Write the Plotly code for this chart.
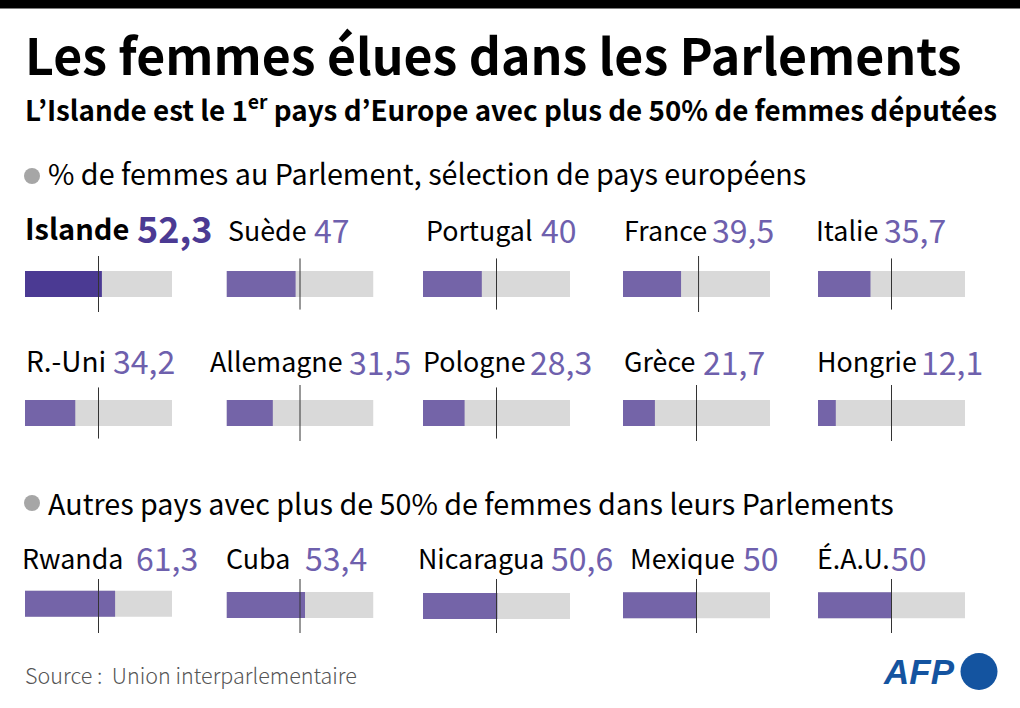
import plotly.graph_objects as go

# data
pays_europe = ["Islande", "Suède", "Portugal", "France", "Italie",
               "R.-Uni", "Allemagne", "Pologne", "Grèce", "Hongrie"]
valeurs_europe = [52.3, 47, 40, 39.5, 35.7, 34.2, 31.5, 28.3, 21.7, 12.1]
pays_autres = ["Rwanda", "Cuba", "Nicaragua", "Mexique", "É.A.U."]
valeurs_autres = [61.3, 53.4, 50.6, 50, 50]
repere = 50

W, H = 1020, 708
FONT = "Noto Sans CJK JP"
VIOLET = "#7464a8"
VIOLET_FONCE = "#4b3a93"
TEXTE_VALEUR = "#6e60ad"
GRIS = "#d9d9d9"

# layout of the small multiples, in pixels
col_x = [25, 226.5, 423, 623, 818]
row_mid = [284, 413, 606]
bar_w = 147
bar_h = 26
line_h = [56, 51.5, 51.5, 56, 51.5, 51.5, 56, 51.5, 56, 56, 54, 54, 54, 54, 54]
bar_shift = [0, 0, 0, 0, 0, 0, 0, 0, 0, 0, 2.3, 1, 0, 0.7, 0.7]
line_shift = [0, 0, 0, 1.4, 0, 0, 0, 0, 0, 0, 0, 0, 0, 0, 0]  # the France line sits a bit off in the original
label_x = [25, 227.5, 426, 623.5, 816, 26, 210, 422.5, 623.5, 816.5, 22, 226, 418, 630, 816.5]
label_size = [29, 26.8, 26.8, 26.8, 26.8, 28, 26.8, 26.8, 26.8, 26.8, 26.8, 26.8, 26.8, 26.8, 26.8]
value_x = [137, 314, 541, 712, 884, 113, 349, 530, 703, 921, 136, 305, 551, 743, 891]
label_y = [227, 229, 229, 229, 229, 359.5, 360.5, 360.5, 360.5, 360.5, 557, 557, 557, 557, 557]


def px(x):
    return x / W


def py(y):
    return 1 - y / H


def label(x, y, text, size, color="#000000", weight=400, font=FONT, style="normal"):
    fig.add_annotation(x=px(x), y=py(y), xref="paper", yref="paper", text=text, showarrow=False,
                       xanchor="left", yanchor="middle", borderpad=0, borderwidth=0, align="left",
                       font=dict(family=font, size=size, color=color, weight=weight, style=style))


fig = go.Figure()

pays = pays_europe + pays_autres
valeurs = valeurs_europe + valeurs_autres
for i, (nom, v) in enumerate(zip(pays, valeurs)):
    n = i + 1
    col = i % 5
    row = i // 5
    fort = nom == "Islande"
    x0 = col_x[col]
    h = line_h[i]
    mid = row_mid[row]
    xa = "x" if n == 1 else "x%d" % n
    ya = "y" if n == 1 else "y%d" % n
    # y axis is in pixels around the middle of the line
    fig.add_trace(go.Bar(x=[100], y=[bar_shift[i]], orientation="h", width=bar_h, marker=dict(color=GRIS, line_width=0),
                         xaxis=xa, yaxis=ya, showlegend=False, hoverinfo="skip"))
    fig.add_trace(go.Bar(x=[v], y=[bar_shift[i]], orientation="h", width=bar_h,
                         marker=dict(color=VIOLET_FONCE if fort else VIOLET, line_width=0),
                         xaxis=xa, yaxis=ya, showlegend=False, name=nom))
    lx = repere + line_shift[i]
    fig.add_trace(go.Scatter(x=[lx, lx], y=[-h / 2, h / 2], mode="lines",
                             line=dict(color="#333333", width=1),
                             xaxis=xa, yaxis=ya, showlegend=False, hoverinfo="skip"))
    fig.update_layout({
        "xaxis" if n == 1 else "xaxis%d" % n: dict(domain=[px(x0), px(x0 + bar_w)], range=[0, 100], visible=False,
                                                   anchor=ya, fixedrange=True),
        "yaxis" if n == 1 else "yaxis%d" % n: dict(domain=[py(mid + h / 2), py(mid - h / 2)], range=[-h / 2, h / 2],
                                                   visible=False, anchor=xa, fixedrange=True),
    })
    texte_v = ("%g" % v).replace(".", ",")
    label(label_x[i], label_y[i], nom, label_size[i], weight=700 if fort else 400)
    label(value_x[i], label_y[i], texte_v, 36 if fort else 32,
          color=VIOLET_FONCE if fort else TEXTE_VALEUR, weight=700 if fort else 400)

label(25, 53, "Les femmes élues dans les Parlements", 50, weight=700)
label(25, 107.5, "L’Islande est le 1<sup>er</sup> pays d’Europe avec plus de 50% de femmes députées", 27.75, weight=700)
label(48, 172.5, "% de femmes au Parlement, sélection de pays européens", 28.7)
label(48, 502, "Autres pays avec plus de 50% de femmes dans leurs Parlements", 28.7)
label(25, 674, "Source :  Union interparlementaire", 21.5, color="#555555", weight=300)
label(883, 671.5, "AFP", 35, color="#1454a0", weight=700, font="Liberation Sans", style="italic")

fig.add_shape(type="rect", xref="paper", yref="paper", x0=0, x1=1, y0=py(0), y1=py(8.5),
              fillcolor="#000000", line_width=0)
for cy in [176, 503]:
    fig.add_shape(type="circle", xref="paper", yref="paper", x0=px(24), x1=px(40), y0=py(cy - 8), y1=py(cy + 8),
                  fillcolor="#a6a6a6", line_width=0)
fig.add_shape(type="circle", xref="paper", yref="paper", x0=px(960.5), x1=px(997.5), y0=py(653), y1=py(690),
              fillcolor="#1454a0", line_width=0)

fig.update_layout(width=W, height=H, margin=dict(l=0, r=0, t=0, b=0), barmode="overlay",
                  paper_bgcolor="#ffffff", plot_bgcolor="rgba(0,0,0,0)", showlegend=False)

fig.write_html("out.html", config=dict(displayModeBar=False),
               post_script="document.body.style.margin='0';")
